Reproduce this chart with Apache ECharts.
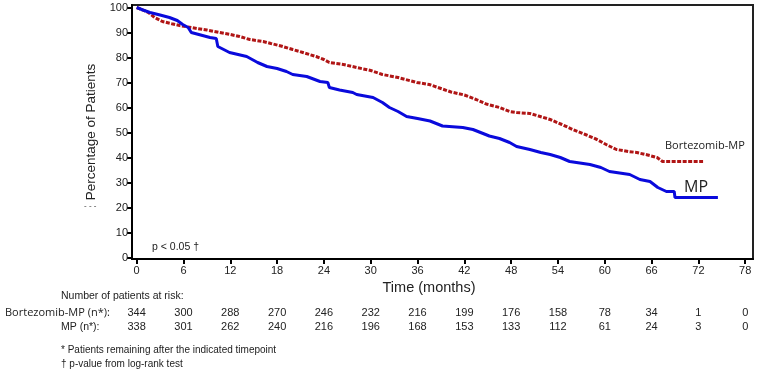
<!DOCTYPE html>
<html>
<head>
<meta charset="utf-8">
<script src="https://cdn.jsdelivr.net/npm/echarts@6/dist/echarts.min.js"></script>
<style>
html,body{margin:0;padding:0;background:#fff;}
#c{width:769px;height:373px;}
</style>
</head>
<body>
<div id="c"></div>
<script>
// ---- Data ----
var xTicks = [0,6,12,18,24,30,36,42,48,54,60,66,72,78];
var yTicks = [0,10,20,30,40,50,60,70,80,90,100];

var bortMonths = [0,0.8,1.5,2.3,3.3,4.5,5.5,7.7,9,10.6,12,13.2,14.5,16.2,17.2,18.5,20,21.3,23,24,24.7,26.5,28.2,30,31.5,33.5,35.9,37.5,39,40.3,42,43.5,44.8,46.5,47.8,48.7,50.4,51.5,53,54.5,55.9,57.5,59,60.3,61.5,63,64.1,65.5,66.7,67.4,72.6];
var bortPct    = [100,99,98,96,94.4,93.5,92.8,91.6,91,90,89.2,88.4,87.2,86.4,85.6,84.6,83.2,82,80.4,79.2,78,77.2,76,74.8,73.2,72,70,69.2,67.6,66.2,65,63.2,61.4,60,58.4,58,57.6,56.6,55.2,53.2,51.2,49.2,47.2,45,43.2,42.4,42,41,40,38.4,38.4];

var mpMonths = [0,0.8,1.7,3,4.2,5.2,5.9,6.6,7,8.2,9.4,10.2,10.4,11.9,13,14.1,14.8,15.5,16.7,18,19.2,20,21.8,23.5,24.5,24.7,26,27.7,28.2,30.3,31.5,32.4,33.5,34.6,36,37.6,39.2,41.8,43.1,44.4,45.2,46.5,47.8,48.7,50.4,51.8,53,54.3,55.5,58.1,59.5,60.6,63.2,64.5,65.8,66.8,67.9,68.9,69,74.5];
var mpPct    = [100,99,98,97,96,94.8,93.2,92,90,89,88,87.6,84.4,82,81.2,80.4,79.2,78,76.4,75.6,74.4,73.2,72.4,70.4,70,68,67,66,65.2,64,62,60,58.4,56.4,55.6,54.6,52.6,52,51.2,49.6,48.6,47.6,46,44.4,43.2,42,41.2,40,38.4,37.2,36,34.4,33.2,31.2,30.4,28,26.4,26.4,24,24];

var riskTimes = [0,6,12,18,24,30,36,42,48,54,60,66,72,78];
var bortRisk = [344,300,288,270,246,232,216,199,176,158,78,34,1,0];
var mpRisk   = [338,301,262,240,216,196,168,153,133,112,61,24,3,0];

function pairs(xs, ys){ return xs.map(function(x,i){ return [x, ys[i]]; }); }

var FONT = '"Liberation Sans", Arial, sans-serif';
var SANS2 = '"Open Sans", "Noto Sans", sans-serif';
var chart = echarts.init(document.getElementById('c'), null, {renderer:'canvas'});

var option = {
  animation: false,
  backgroundColor: '#fff',
  grid: { left: 132, right: 16, top: 5, bottom: 114, show: true, borderColor: '#222', borderWidth: 2, backgroundColor: 'transparent' },
  xAxis: {
    type: 'value', min: -0.6, max: 79,
    axisLine: { show: true, onZero: false, lineStyle: { color: '#000', width: 2 } },
    axisTick: { show: true, inside: false, length: 5, lineStyle: { color: '#000', width: 2 }, customValues: xTicks },
    axisLabel: { color: '#222', fontSize: 11, fontFamily: FONT, margin: 6, customValues: xTicks },
    splitLine: { show: false }
  },
  yAxis: {
    type: 'value', min: -0.6, max: 101,
    name: 'Percentage of Patients', nameLocation: 'middle', nameGap: 33,
    nameTextStyle: { color: '#222', fontSize: 13.5, fontFamily: FONT },
    axisLine: { show: true, onZero: false, lineStyle: { color: '#000', width: 2 } },
    axisTick: { show: true, inside: false, length: 5, lineStyle: { color: '#000', width: 2 }, customValues: yTicks },
    axisLabel: { color: '#222', fontSize: 11, fontFamily: FONT, margin: 4, customValues: yTicks },
    splitLine: { show: false }
  },
  series: [
    {
      name: 'Bortezomib-MP', type: 'line', symbol: 'none',
      data: pairs(bortMonths, bortPct),
      lineStyle: { color: '#b01515', width: 3, type: [4, 1.5] }, z: 3
    },
    {
      name: 'MP', type: 'line', symbol: 'none',
      data: pairs(mpMonths, mpPct),
      lineStyle: { color: '#0a0adc', width: 3 }, z: 4
    }
  ]
};
chart.setOption(option);

var g = [];
function txt(x, y, s, size, opts){
  opts = opts || {};
  g.push({ type: 'text', x: x, y: y, silent: true,
    style: { text: s, fill: opts.color || '#222', font: 'normal ' + size + 'px ' + (opts.family || FONT),
      textAlign: opts.align || 'left', textVerticalAlign: 'middle' } });
}
// axis title
txt(429, 288, 'Time (months)', 14.5, {align: 'center'});
txt(84, 206, '- - -', 8, {color: '#333'});
// annotations
txt(152, 247, 'p < 0.05 \u2020', 10.5);
txt(665, 146, 'Bortezomib-MP', 11, {family: SANS2});
txt(684, 187, 'MP', 16, {family: SANS2});
// risk table
txt(61, 296, 'Number of patients at risk:', 10.5);
txt(5, 313, 'Bortezomib-MP (n*):', 11, {family: SANS2});
txt(61, 327, 'MP (n*):', 10.5);
riskTimes.forEach(function(t, i){
  var px = chart.convertToPixel({gridIndex: 0}, [t, 0])[0];
  txt(px, 313, String(bortRisk[i]), 11, {align: 'center'});
  txt(px, 327, String(mpRisk[i]), 11, {align: 'center'});
});
// footnotes
txt(61, 350, '* Patients remaining after the indicated timepoint', 10);
txt(61, 364, '\u2020 p-value from log-rank test', 10);

chart.setOption({ graphic: g });
</script>
</body>
</html>
